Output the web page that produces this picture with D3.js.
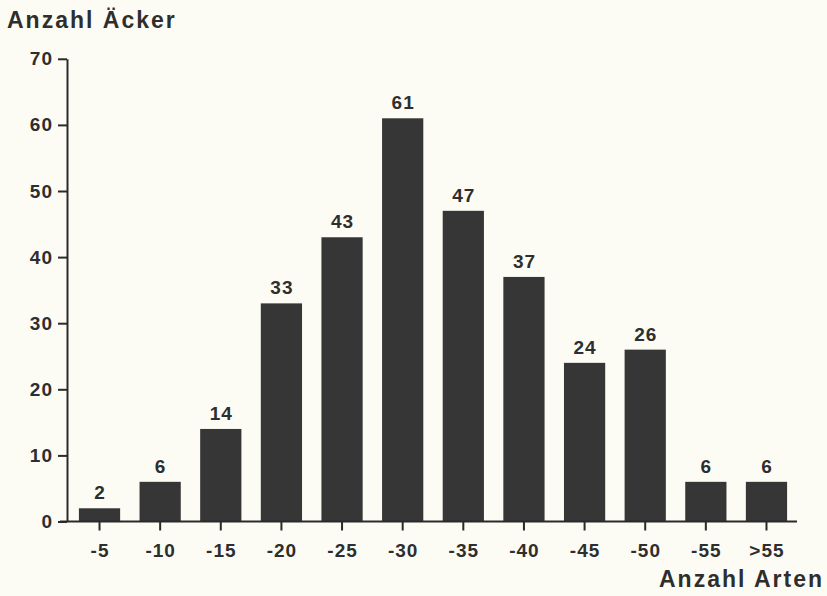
<!DOCTYPE html>
<html>
<head>
    <meta charset="utf-8">
    <script src="https://cdn.jsdelivr.net/npm/d3@7/dist/d3.min.js"></script>
    <style type="text/css">
        body { margin: 0; background: #fcfcf4; }
        svg { display: block; background: #fcfcf4; }
        text { font-family: "Liberation Sans", Arial, sans-serif; font-weight: bold; fill: #2e2e2e; }
        .axis path, .axis line { stroke: #2a2a2a; stroke-width: 2px; }
        .axis text { font-size: 19px; letter-spacing: 1px; }
        .bar { fill: #363636; }
        .val { font-size: 19px; letter-spacing: 1px; }
        .title { font-size: 23px; letter-spacing: 2px; }
    </style>
</head>
<body>
    <svg id="chart"></svg>
    <script>
        var categories = ["-5", "-10", "-15", "-20", "-25", "-30", "-35", "-40", "-45", "-50", "-55", ">55"];
        var counts = [2, 6, 14, 33, 43, 61, 47, 37, 24, 26, 6, 6];
        var yTicks = [0, 10, 20, 30, 40, 50, 60, 70];

        var data = categories.map(function(c, i) { return { cat: c, n: counts[i] }; });

        var width = 827, height = 596;
        var svg = d3.select("#chart")
            .attr("width", width)
            .attr("height", height);

        var x = d3.scaleBand()
            .domain(categories)
            .range([69.2, 796.8])
            .paddingInner(0.32)
            .paddingOuter(0.16);

        var y = d3.scaleLinear()
            .domain([0, 70])
            .range([521.5, 58.8]);

        svg.selectAll(".bar")
            .data(data)
            .enter()
            .append("rect")
            .attr("class", "bar")
            .attr("x", d => x(d.cat))
            .attr("y", d => y(d.n))
            .attr("width", x.bandwidth())
            .attr("height", d => y(0) - y(d.n));

        svg.selectAll(".val")
            .data(data)
            .enter()
            .append("text")
            .attr("class", "val")
            .attr("x", d => x(d.cat) + x.bandwidth() / 2 + 0.5)
            .attr("y", d => y(d.n) - 9)
            .attr("text-anchor", "middle")
            .text(d => d.n);

        // x axis: line runs a bit left of the y axis
        var xAxis = d3.axisBottom(x)
            .tickSize(9)
            .tickSizeOuter(0)
            .tickPadding(13);

        var gx = svg.append("g")
            .attr("class", "axis")
            .attr("transform", "translate(0," + y(0) + ")")
            .call(xAxis);
        gx.select(".domain").attr("d", "M60,0H797");
        gx.selectAll(".tick text").attr("dx", "0.5px");

        var yAxis = d3.axisLeft(y)
            .tickValues(yTicks)
            .tickSize(9)
            .tickSizeOuter(0)
            .tickPadding(5);

        var gy = svg.append("g")
            .attr("class", "axis")
            .attr("transform", "translate(67,0)")
            .call(yAxis);

        svg.append("text")
            .attr("class", "title")
            .attr("x", 7)
            .attr("y", 28)
            .text("Anzahl Äcker");

        svg.append("text")
            .attr("class", "title")
            .attr("x", 824)
            .attr("y", 587)
            .attr("text-anchor", "end")
            .text("Anzahl Arten");
    </script>
</body>
</html>
